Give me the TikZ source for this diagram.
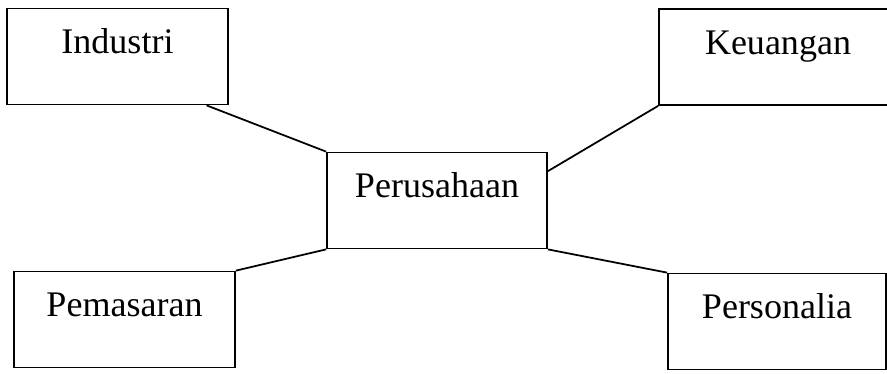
\documentclass[tikz,border=0pt]{standalone}
\usepackage{fontspec}
\setmainfont{Liberation Serif}
\usetikzlibrary{calc}

\begin{document}
\begin{tikzpicture}[
    x=0.02cm, y=-0.02cm,
    box/.style={rectangle, draw, line width=1pt, minimum height=1.92cm, inner sep=0pt,
        font=\fontsize{20.5}{24}\selectfont, text height=0.5cm, text depth=0.62cm},
    link/.style={line width=1pt}
]
\useasboundingbox (0,0) rectangle (887,373);
% Nodes
\node[box, minimum width=4.42cm] (industri) at (117.5,56.5) {Industri};
\node[box, minimum width=4.76cm] (keuangan) at (778,57) {Keuangan};
\node[box, minimum width=4.4cm] (perusahaan) at (437,200.5) {Perusahaan};
\node[box, minimum width=4.42cm] (pemasaran) at (124.5,319.5) {Pemasaran};
\node[box, minimum width=4.36cm] (personalia) at (777,321.5) {Personalia};

% Lines
\draw[link] ($(industri.south west)!0.9!(industri.south east)$) -- (perusahaan.north west);
\draw[link] (keuangan.south west) -- ($(perusahaan.north east)!0.2!(perusahaan.south east)$);
\draw[link] (pemasaran.north east) -- (perusahaan.south west);
\draw[link] (perusahaan.south east) -- (personalia.north west);
\end{tikzpicture}
\end{document}
